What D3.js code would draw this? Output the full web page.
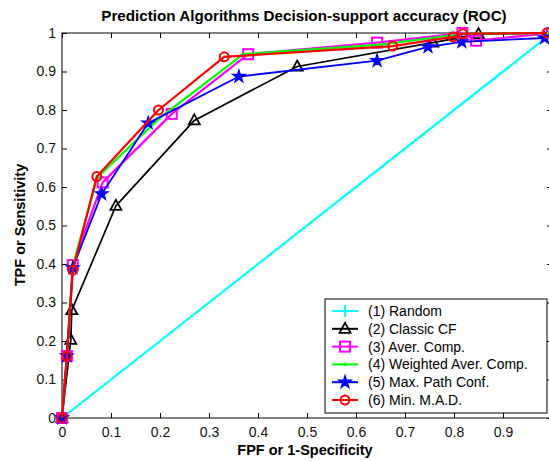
<!DOCTYPE html>
<html>
<head>
<meta charset="utf-8">
<script src="https://cdn.jsdelivr.net/npm/d3@7"></script>
<style>
  body { margin: 0; background: #fff; }
  svg { display: block; font-family: "Liberation Sans", Arial, sans-serif; }
</style>
</head>
<body>
<svg id="chart" width="549" height="461"></svg>
<script>
// DATA
const seriesNames = ['(1) Random', '(2) Classic CF', '(3) Aver. Comp.', '(4) Weighted Aver. Comp.', '(5) Max. Path Conf.', '(6) Min. M.A.D.'];

const randomX = [0, 1];
const randomY = [0, 1];

const classicX = [0, 0.018, 0.02, 0.11, 0.27, 0.48, 0.757, 0.85, 1];
const classicY = [0, 0.203, 0.28, 0.551, 0.773, 0.913, 0.975, 0.997, 1];

const averX = [0, 0.01, 0.022, 0.083, 0.224, 0.38, 0.643, 0.817, 0.845, 1];
const averY = [0, 0.161, 0.397, 0.612, 0.79, 0.945, 0.975, 1.0, 0.98, 1];

const weightedX = [0, 0.01, 0.022, 0.072, 0.2, 0.37, 0.65, 0.82, 1];
const weightedY = [0, 0.161, 0.395, 0.625, 0.78, 0.945, 0.97, 0.998, 1];

const maxPathX = [0, 0.01, 0.022, 0.081, 0.176, 0.361, 0.643, 0.747, 0.816, 0.985];
const maxPathY = [0, 0.161, 0.39, 0.582, 0.766, 0.887, 0.928, 0.964, 0.977, 0.987];

const minMadX = [0, 0.01, 0.022, 0.071, 0.197, 0.331, 0.675, 0.798, 0.818, 0.99];
const minMadY = [0, 0.161, 0.384, 0.627, 0.80, 0.938, 0.966, 0.99, 0.998, 1.0];

const xTicks = [0, 0.1, 0.2, 0.3, 0.4, 0.5, 0.6, 0.7, 0.8, 0.9, 1];
const xTickLabels = ['0', '0.1', '0.2', '0.3', '0.4', '0.5', '0.6', '0.7', '0.8', '0.9', '1'];
const yTicks = [0, 0.1, 0.2, 0.3, 0.4, 0.5, 0.6, 0.7, 0.8, 0.9, 1];
const yTickLabels = ['0', '0.1', '0.2', '0.3', '0.4', '0.5', '0.6', '0.7', '0.8', '0.9', '1'];

//SERIES STYLE
const series = [
    { name: seriesNames[0], xs: randomX, ys: randomY, color: '#00ffff', marker: 'plus' },
    { name: seriesNames[1], xs: classicX, ys: classicY, color: '#000000', marker: 'triangle' },
    { name: seriesNames[2], xs: averX, ys: averY, color: '#ff00ff', marker: 'square' },
    { name: seriesNames[3], xs: weightedX, ys: weightedY, color: '#00ff00', marker: 'dot' },
    { name: seriesNames[4], xs: maxPathX, ys: maxPathY, color: '#0000ff', marker: 'star' },
    { name: seriesNames[5], xs: minMadX, ys: minMadY, color: '#ff0000', marker: 'circle' }
];

const svg = d3.select('#chart');

const x = d3.scaleLinear().domain([0, 1]).range([62, 552]);
const y = d3.scaleLinear().domain([0, 1]).range([418, 33]);

//AXES (matlab style, ticks inside)
const xAxis = d3.axisBottom(x).tickValues(xTicks)
    .tickFormat((d, i) => xTickLabels[i]).tickSizeInner(-5).tickSizeOuter(0).tickPadding(9);
const yAxis = d3.axisLeft(y).tickValues(yTicks)
    .tickFormat((d, i) => yTickLabels[i]).tickSizeInner(-5).tickSizeOuter(0).tickPadding(6);

const gx = svg.append('g').attr('transform', `translate(0,${y(0)})`).call(xAxis);
const gy = svg.append('g').attr('transform', `translate(${x(0)},0)`).call(yAxis);
const gxTop = svg.append('g').attr('transform', `translate(0,${y(1)})`)
    .call(d3.axisTop(x).tickValues(xTicks).tickFormat('').tickSizeInner(-5).tickSizeOuter(0));
const gyRight = svg.append('g').attr('transform', `translate(${x(1)},0)`)
    .call(d3.axisRight(y).tickValues(yTicks).tickFormat('').tickSizeInner(-5).tickSizeOuter(0));

[gx, gy, gxTop, gyRight].forEach(g => {
    g.select('.domain').remove();
    g.selectAll('line').attr('stroke', '#000');
    g.selectAll('text').attr('font-size', 14).attr('fill', '#111')
        .attr('font-family', '"Liberation Sans", Arial, sans-serif');
});

svg.append('rect')
    .attr('x', x(0)).attr('y', y(1))
    .attr('width', x(1) - x(0)).attr('height', y(0) - y(1))
    .attr('fill', 'none').attr('stroke', '#000');

//MARKERS
const drawMarker = (g, kind, cx, cy, color) => {
    if (kind === 'plus') {
        g.append('path').attr('d', `M${cx - 6},${cy}H${cx + 6}M${cx},${cy - 6}V${cy + 6}`)
            .attr('stroke', color).attr('stroke-width', 2).attr('fill', 'none');
    } else if (kind === 'triangle') {
        g.append('path').attr('d', `M${cx},${cy - 6}L${cx + 5.5},${cy + 4}L${cx - 5.5},${cy + 4}Z`)
            .attr('stroke', color).attr('stroke-width', 1.8).attr('fill', 'none');
    } else if (kind === 'square') {
        g.append('rect').attr('x', cx - 5).attr('y', cy - 5).attr('width', 10).attr('height', 10)
            .attr('stroke', color).attr('stroke-width', 2).attr('fill', 'none');
    } else if (kind === 'dot') {
        g.append('circle').attr('cx', cx).attr('cy', cy).attr('r', 1.8).attr('fill', color);
    } else if (kind === 'star') {
        g.append('path').attr('d', d3.symbol(d3.symbolStar, 50)())
            .attr('transform', `translate(${cx},${cy})`)
            .attr('fill', color).attr('stroke', color).attr('stroke-width', 1.2);
    } else if (kind === 'circle') {
        g.append('circle').attr('cx', cx).attr('cy', cy).attr('r', 4.5)
            .attr('stroke', color).attr('stroke-width', 2).attr('fill', 'none');
    }
};

//LINES
const line = d3.line().x(d => x(d[0])).y(d => y(d[1]));
series.forEach(s => {
    const pts = s.xs.map((v, i) => [v, s.ys[i]]);
    const g = svg.append('g');
    g.append('path').attr('d', line(pts))
        .attr('fill', 'none').attr('stroke', s.color)
        .attr('stroke-width', s.marker === 'triangle' ? 1.7 : (s.marker === 'star' ? 1.8 : 2.2))
        .attr('stroke-linejoin', 'round');
    pts.forEach(p => drawMarker(g, s.marker, x(p[0]), y(p[1]), s.color));
});

//TITLES
svg.append('text').attr('x', 304).attr('y', 21).attr('text-anchor', 'middle')
    .attr('font-size', 15.2).attr('font-weight', 'bold')
    .text('Prediction Algorithms Decision-support accuracy (ROC)');
svg.append('text').attr('x', 305).attr('y', 455).attr('text-anchor', 'middle')
    .attr('font-size', 14.5).attr('font-weight', 'bold')
    .text('FPF or 1-Specificity');
svg.append('text').attr('transform', 'translate(25,225) rotate(-90)').attr('text-anchor', 'middle')
    .attr('font-size', 14.5).attr('font-weight', 'bold')
    .text('TPF or Sensitivity');

//LEGEND
const legend = svg.append('g');
legend.append('rect').attr('x', 325).attr('y', 299).attr('width', 222).attr('height', 114)
    .attr('fill', '#fff').attr('stroke', '#000');
series.forEach((s, i) => {
    const ly = 311 + i * 17.8;
    legend.append('line').attr('x1', 332).attr('x2', 358).attr('y1', ly).attr('y2', ly)
        .attr('stroke', s.color).attr('stroke-width', 2);
    drawMarker(legend, s.marker, 345, ly, s.color);
    legend.append('text').attr('x', 368).attr('y', ly).attr('dy', '0.36em')
        .attr('font-size', 14).text(s.name);
});
</script>
</body>
</html>
